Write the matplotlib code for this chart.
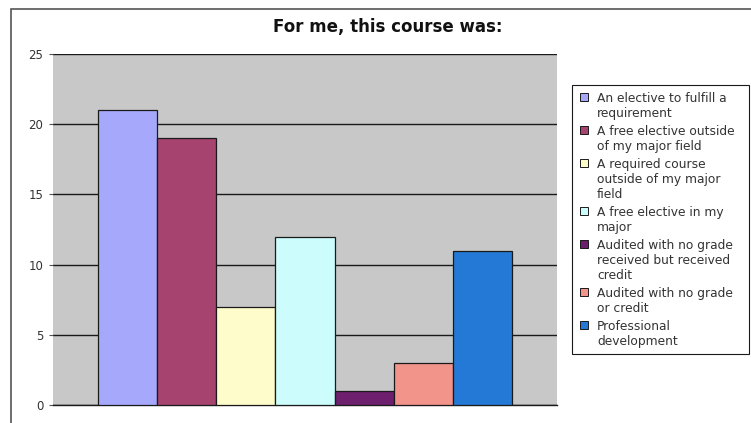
import matplotlib
matplotlib.use("Agg")
import matplotlib.pyplot as plt
import numpy as np
from matplotlib.patches import Rectangle

plt.rcParams['font.family'] = ['DejaVu Sans']

categories = [
    "An elective to fulfill a\nrequirement",
    "A free elective outside\nof my major field",
    "A required course\noutside of my major\nfield",
    "A free elective in my\nmajor",
    "Audited with no grade\nreceived but received\ncredit",
    "Audited with no grade\nor credit",
    "Professional\ndevelopment",
]
values = [21, 19, 7, 12, 1, 3, 11]
colors = ["#A6A8FC", "#A6436F", "#FFFCCC", "#CCFCFC", "#6E1F6E", "#F2948A", "#2478D6"]
yticks = [0, 5, 10, 15, 20, 25]
title = "For me, this course was:"

W, H = 751, 423
fig = plt.figure(figsize=(W / 100, H / 100), dpi=100)


def fx(px):
    return px / W


def fy(py):
    return 1 - py / H


# outer chart border
fig.patches.append(Rectangle((fx(11), -0.2), 1.5, fy(9) + 0.2, transform=fig.transFigure,
                             fill=False, edgecolor="#555555", linewidth=1.2))

ax = fig.add_axes([fx(53), fy(405), (557 - 53) / W, (405 - 54) / H])
ax.set_facecolor("#C8C8C8")
x = np.arange(len(values))
bars = ax.bar(x, values, width=1.0, color=colors, edgecolor="#1a1a1a", linewidth=0.9, zorder=3)
ax.set_xlim(-0.5 - 0.76, len(values) - 0.5 + 0.76)
ax.set_ylim(0, 25)
ax.set_yticks(yticks)
ax.yaxis.grid(True, color="#1a1a1a", linewidth=1.0, zorder=1)
ax.set_axisbelow(True)
ax.set_xticks([])
for s in ["top", "right", "left"]:
    ax.spines[s].set_visible(False)
ax.spines["bottom"].set_color("#1a1a1a")
ax.spines["bottom"].set_linewidth(1.0)
ax.tick_params(axis="y", length=3, color="#555555", labelsize=8.5, labelcolor="#333333", pad=4)

fig.text(fx(388), fy(27), title, ha="center", va="center", fontsize=12, fontweight="bold",
         color="#111111")

# legend (manual, handle aligned with the first text line as in the reference)
fig.patches.append(Rectangle((fx(572), fy(354)), (749 - 572) / W, (354 - 85) / H,
                             transform=fig.transFigure, facecolor="white",
                             edgecolor="#1a1a1a", linewidth=0.8, zorder=5))
y = 97
line_step = 15
for cat, col in zip(categories, colors):
    lines = cat.split("\n")
    fig.patches.append(Rectangle((fx(580), fy(y + 4)), 8 / W, 8 / H, transform=fig.transFigure,
                                 facecolor=col, edgecolor="#1a1a1a", linewidth=0.7, zorder=6))
    for i, ln in enumerate(lines):
        fig.text(fx(597), fy(y + i * line_step), ln, ha="left", va="center_baseline",
                 fontsize=8.8, color="#333333", zorder=7)
    y += len(lines) * line_step + 3

fig.savefig("out.png", dpi=100, facecolor="white")
